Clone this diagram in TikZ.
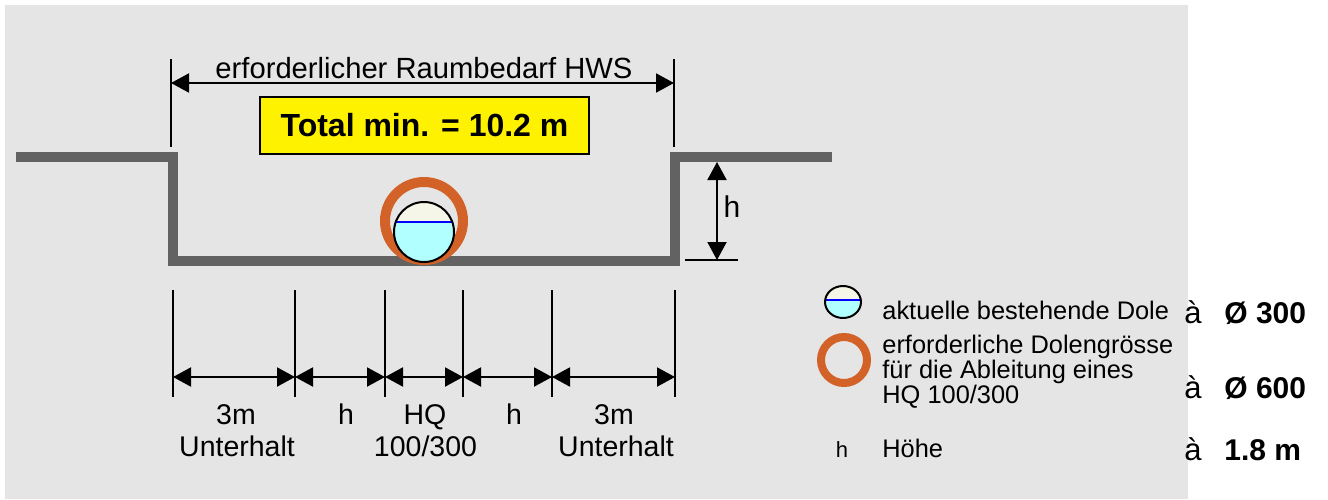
\documentclass[tikz,border=0pt]{standalone}
\usepackage{fontspec}
\setmainfont{Liberation Sans}
\usetikzlibrary{arrows.meta}
\definecolor{hg}{RGB}{229,229,229}
\definecolor{erde}{RGB}{98,98,98}
\definecolor{rohr}{RGB}{210,98,40}
\definecolor{wasser}{RGB}{178,255,255}
\definecolor{luft}{RGB}{246,246,232}
\begin{document}
\begin{tikzpicture}[x=0.5pt,y=-0.5pt,line join=miter,>={Triangle[length=9pt,width=9.5pt]},font=\fontsize{14.25}{16}\selectfont]
\tikzset{mass/.style={line width=1pt},
txt/.style={inner sep=0pt,anchor=base},
leg/.style={inner sep=0pt,anchor=base west,font=\fontsize{12.7}{14}\selectfont},
wert/.style={inner sep=0pt,anchor=base west,font=\fontsize{15}{17}\selectfont\bfseries},
pfeil/.style={inner sep=0pt,anchor=base,font=\fontsize{15.5}{17}\selectfont},
boden/.style={erde,line width=5pt},
dole/.pic={
\begin{scope}
\clip (0,0) circle[x radius=\rx,y radius=\ry];
\fill[luft] (-\rx,-\ry) rectangle (\rx,\wl);
\fill[wasser] (-\rx,\wl) rectangle (\rx,\ry);
\draw[blue,line width=1.2pt] (-\rx,\wl)--(\rx,\wl);
\end{scope}
\draw[line width=1pt] (0,0) circle[x radius=\rx,y radius=\ry];
}}
\useasboundingbox (0,0) rectangle (1328,499);
\fill[hg] (5,5) rectangle (1188,499);
\draw[boden] (16,157)--(173,157)--(173,261)--(675,261)--(675,157)--(832,157);
\coordinate (RL) at (171,83);
\coordinate (RR) at (674,83);
\draw[mass] (171,59)--(171,147) (674,59)--(674,147);
\draw[mass,<->] (RL)--(RR);
\node[txt,font=\fontsize{14.6}{16}\selectfont] (raum) at (424,78) {erforderlicher Raumbedarf HWS};
\node[draw,fill=yellow,line width=1pt,minimum width=164.5pt,minimum height=28.5pt,inner sep=0pt,font=\fontsize{16}{18}\selectfont\bfseries] (total) at (424.5,125.5) {Total min. = 10.2 m};
\draw[rohr,line width=5pt] (424,221) circle[radius=39];
\def\rx{30}\def\ry{30}\def\wl{-10}
\pic at (424,232) {dole};
\coordinate (hO) at (717,162);
\coordinate (hU) at (717,260);
\draw[mass,<->] (hO)--(hU);
\draw[mass] (685,260)--(738,260);
\node[txt,font=\fontsize{15}{17}\selectfont] (hh) at (732,217) {h};
\foreach \x [count=\i] in {173,295,385,463,552,675}{
\draw[mass] (\x,290)--(\x,397);
\coordinate (d\i) at (\x,377);
}
\foreach \i/\j in {1/2,2/3,3/4,4/5,5/6}
\draw[mass,<->] (d\i)--(d\j);
\node[txt] (m1) at (236,424) {3m};
\node[txt] (u1) at (237,456) {Unterhalt};
\node[txt] (h1) at (346,424) {h};
\node[txt] (hq) at (425,424) {HQ};
\node[txt] (jq) at (425.5,456) {100/300};
\node[txt] (h2) at (514,424) {h};
\node[txt] (m2) at (614,424) {3m};
\node[txt] (u2) at (616,456) {Unterhalt};
\def\rx{18}\def\ry{16}\def\wl{-2}
\pic at (843,302) {dole};
\draw[rohr,line width=4pt] (844,360) circle[radius=23];
\node[leg] (l1) at (882,319) {aktuelle bestehende Dole};
\node[leg] (l2) at (882,353) {erforderliche Dolengrösse};
\node[leg] (l3) at (882,378) {für die Ableitung eines};
\node[leg] (l4) at (882,403) {HQ 100/300};
\node[txt,font=\fontsize{11}{13}\selectfont] (lh) at (842,457) {h};
\node[leg] (l5) at (882,457) {Höhe};
\foreach \y/\w [count=\i] in {323/Ø 300,398/Ø 600,460/1.8 m}{
\node[pfeil] (a\i) at (1193,\y) {à};
\node[wert] (w\i) at (1224,\y) {\w};
}
\end{tikzpicture}
\end{document}
